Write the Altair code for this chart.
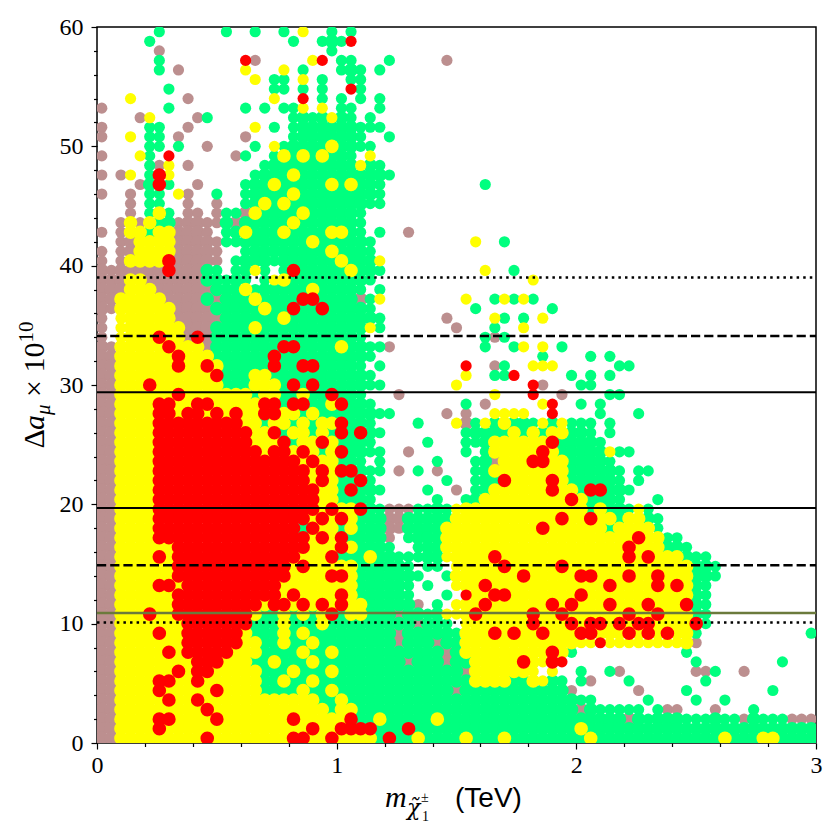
import altair as alt
import pandas as pd

# colour classes (matplotlib: rosybrown, springgreen, yellow, red)
COLORS = {"b": "#bc8f8f", "g": "#00ff7f", "y": "#ffff00", "r": "#ff0000"}
DRAW_ORDER = ["b", "g", "y", "r"]

# Point map: one character per cell, top row = highest Δa_μ.
# cell width 0.04 TeV (75 columns, 0..3 TeV), cell height 0.8 (75 rows, 0..60)
# '.' empty, b rosybrown, g springgreen, y yellow, r red (topmost colour seen)
ROWS = [
    "..... .g... ...g. .g..g .y..g .g...",
    "..... g.... ..... ..... g..gg gr...",
    "..... .b... ..... ..... ....g",
    "..... .g... ..... rb... ..yr. gg... g.... .b...",
    "..... .g.b. ..... y...y .g... ggg.g",
    "..... ..... ..... .y.gg .y.g. .gg..",
    "..... ..g.. ..... ...gg .g.g. .rg..",
    "...y. ....b ..... ...y. .r.g. g.g.g",
    "b.... ..g.. ..... g.g.g gy.y. gg..g",
    "....b y.... bg... ..... ggggy gg.g.",
    "b.... gg..b ..... .y.g. ggggg ggggg",
    "b..y. gg.b. ..... b.... ggggg ggg.. g....",
    "..... gg.g. .b... .g.yg ggggy gggg.",
    "b...y g.r.. ....b g..gy gygyg gg.y.",
    "..... gby.b ..... ..ggg ggggg ggygg",
    "b.by. gry.. ..... .gggg ygggg ggggg g....",
    "....b grg.. b.... gggyg ggggy gyggg ..... ..... g....",
    "b..b. gg.yb ..g.. ggggg ygggg ggggg",
    "...b. gg..b ..b.. ggygy ggggg ggggg",
    "...b. gyg.b b.bgg byggg gyggg ggg..",
    "..byb yggbb bbbgb ggggg ygggg ggg..",
    "b.byy gyybb bb.gg ygggy ggggy ygg.g ..b..",
    "..bby yyybb bbbgg ggggg ggygg gggg. ..... ....y ..g..",
    "b.bby yyybb bbb.. ggggg ggggy gggg.",
    "b.byy yyrbb bbb.g ggggg ggggg ygggy",
    "bbbbb bbrbb bgg.g gyg.g rgggg gyggg ..... ..... y..g.",
    "bbbyy bbbbb bgggg g.gyy ggggg gggg. ..... ..... ..... y....",
    "bbbyy ybbbb bbggg ygggg ggygg ggg.g",
    "bbyyy yybbb bgbgg gyggg grrgg ggbgy ..... ...y. .gygy g....",
    "bbyyy yyybb bbggg ggygg rggrg gggg. ..... ....g ..... ..g..",
    "b.yyy yyybb bbbgg ggggy ggggg ggggg ..... .b... .yg.g .y...",
    "b.yyy yyyyb bbggg gyggg ggggg gggyg ..... ..b.. .g..y",
    "b.yyy yryyb rbggg ggggg ggggg ggg.. ..... ..... gbg..",
    "bbyyy yyryy ybggg ggggr rgggg ygggg b.... ..... g..gy .y.g.",
    "bbyyy yyyry yyggg gggrg ggggg gggg. ..... ..... ..... .g... .g.g.",
    "bbyyy yyyry yrygg gggrg grrgg ggg.g ..... ...r. .bg.. yyy.. ....g g....",
    "bbyyy yyyyy yyrgg gyygg ggggg gggg. ..... ...y. .ggr. ....g .g.g.",
    "bbyyy ryyyy yyygg gyyyg rgrgg ggggg ..... ..y.. ..... rb... gg...",
    "bbyyy yyyry yyyyy ygyyg gyggr ggg.. .b... ..... .y... r..b. ...gg",
    "bbyyy yrryy rryyy yyrrg rrggy rggg. ..... ...g. b.... .yr.. g.g..",
    "bbyyy yrryr ryryr yyrry ygygg ggggg g.... .b.b. .yyyy ..r.. ..g.. .g...",
    "bbyyy yrrrr rrrrr yygyy gygyy rggg. ...g. ..ybg ygygg gygyg gg.g.",
    "bbyyy yrrrr rrrrr ryyrg yygyg rgrgg ..... ...gg gggyg ygyyg gg.g.",
    "bbyyy yrrrr rrrrr ryyyr gyyry gggg. ....g ...gg gyyyy yyrgg ggg..",
    "bbyyy yrrrr rrrrr rryrr yrygy rgggg ..b.. ...g. gyyyy yrygg gggyg g....",
    "bbyyy yrrrr rrrrr rrrrr ryryy ggg.g ..... g...g gbyyy rryyg gggg.",
    "bbyyy yrrrr rrrrr rrrrr rryry rrggg .b.g. b...g gyyyy yyyyg ggggg .gg..",
    "bbyyy yrrrr rrrrr rrrrr rryry ggrg. ..... .g..g ggryy yyryg ggggg .g...",
    "bbyyy yrrrr rrrrr rrrrr rrryy grggg ....g ..b.g gyyyy yyryy grrgg g....",
    "bbyyy yrrrr rrrrr rrrrr rrryy gggg. ..... g..gg yyyyy yyyyr ygggg ...g.",
    "bbyyy yrrrr rrrrr rrrrr rrryr yyrgg bbbgg ggyyy yyyyy yyyyy ygygg gyg..",
    "bbyyy yrrrr rrrrr rrrrr rryry ryggg bbggg ggyyy yyyyy yyyry yryyg yygg.",
    "bbyyy yrrrr rrrrr rrrrr rgryy gyggg bbggg gyyyy yyyyy yryyy yyygy yyyg.",
    "bbyyy yrrrr rrrrr rrrrr rryry rgggg b.ggg gyyyy yyyyy yyyyy yyyyy yryyg g....",
    "bbyyy yyyrr rrrrr rrrrr rryyy ryggg g..gg gyyyy yyyyy yyyyy yyyyy ryyyg gg...",
    "bbyyy yryrr rrrrr rrrrr ryyyr gggyg ggggg gyyyy yryyy yyyyy yyyyy ryryy yggg.",
    "bbyyy yyyrr rrrrr rrrrr yryyy yyggg ggg.g g.yyy yyryy yyyry yyyyy yyyyy yyggg",
    "bbyyy yyyrr rrrrr rrrrr yyyyr ryggg gggg. .gyyy yyyyr yyyyy rryyy ryyry yyggg",
    "bbyyy yrryr rrrrr rrrry yyyyy yyggg ggg.g ..yyy ryyyy yyyyy yyyry yyyry rygg.",
    "bbyyy yyyrr rrrrr rrrry ryyyy ryggg ggg.. .g.ry yrryy yyyyy ryyyy yyyyy yygg.",
    "bbyyy yyyrr rrrrr rryrr yryry ryygg gggb. g.yyy ryyyy yyryr yyyry yyryy yrgg.",
    "bbyyy ryyrr rrrrr ryggy gygyr gyygg gbggg gyyyr yyyyy ryyry yyyyy ryyry yygg.",
    "bbyyy yyyyr rrrrr rgggy gggyg ggggg gggbg gg.yy yyyyy ryyyr yrryr yrryy yyrg.",
    "bbyyy yryyr rrrrr ygggy gyggg ggggg gbggg gggyy yryry yryyy rryyy ryryr yyg.. ..... ....g",
    "bbyyy yyyyr rrrrr yyggy ggygg ggggg gbggg bggyy yyyyy yyyyy yyryy yyyyy yyb..",
    "bbyyy yyryr rrrry yyggg gyggy ggggg ggggg gbgyy yyyyy yyryg ..... ..... .g...",
    "bbyyy yyyyy rrryy yggyg ggygg ggggg ggbgg gbggy yyyyr yyrr. ..... ..... ..g.. ..... .g...",
    "bbyyy yyyry rryyy yyggg ygggy ggggg ggggg gggby yyyyy y.y.. g..gb ..... ..bbg ..b..",
    "bbyyy yrryy ryyyy yyggy ggygg ggggg ggggg ggggy yyygg yygg. gb... g.... ...g.",
    "bbyyy yryyy yyryy yyggg gyggy ggggg ggggg ggbgg ggggg ggggb ..... .b... .g... ..... g....",
    "bbyyy yyryy ryyyy yyyyy yyygg ygggg ggggg ggggg ggggg ggggg gg... ..g.. ..g.. g....",
    "bbyyy yyyyy yryyy yyyyy yyyyg yyggg ggggg ggggg ggggg ggggg bgggg gg.gb b...b ...g.",
    "bbyyy yrryy yyryy yyyyy ryyyy yrggy ggggg ygggg ggggg ggggg ggggg bgggg ggggg ggbgg ggbbb",
    "bbyyy yryyy yyyyy yyyyy yyryy rrrrg ggrgg ggggg ggggg ggggg ygggg ggggg ggggg ggggg ggggg",
    "bbyyy yyyyy yryyy yyyyy rryyr yyyyg rggyg gggyg ggygg ggggg gyggg ggggg ggggg ygggy ygggg",
]

# reference lines (Δa_μ × 10^10)
DOTTED = [10.1, 39.0]
DASHED = [14.9, 34.1]
SOLID = [19.7, 29.4]
OLIVE = [10.9]

X_TICKS = [0, 0.2, 0.4, 0.6, 0.8, 1, 1.2, 1.4, 1.6, 1.8, 2, 2.2, 2.4, 2.6, 2.8, 3]
Y_TICKS = list(range(0, 61, 2))

NCOL = 75
NROW = len(ROWS)
CELL_X = 3.0 / NCOL
CELL_Y = 60.0 / NROW

grid = {}
for k, row in enumerate(ROWS):
    j = NROW - 1 - k
    cells = row.replace(" ", "").ljust(NCOL, ".")[:NCOL]
    for i, ch in enumerate(cells):
        if ch in COLORS:
            grid[(i, j)] = ch

SIZE_FILL = 185   # cells inside a dense cloud (marker overlaps neighbours)
SIZE_DOT = 125    # isolated / edge points, about the reference marker size

recs = []
for (i, j), ch in grid.items():
    inner = all((i + di, j + dj) in grid or not (0 <= i + di < NCOL and 0 <= j + dj < NROW)
                for di, dj in ((1, 0), (-1, 0), (0, 1), (0, -1)))
    recs.append({"x": round((i + 0.5) * CELL_X, 4),
                 "y": round((j + 0.5) * CELL_Y, 4),
                 "c": ch,
                 "s": SIZE_FILL if inner else SIZE_DOT})
df = pd.DataFrame(recs)

W, H = 719, 716
SERIF = "Liberation Serif"

xscale = alt.Scale(domain=[0, 3], nice=False, zero=False)
yscale = alt.Scale(domain=[0, 60], nice=False, zero=False)

xaxis = alt.Axis(
    values=X_TICKS, title=None, grid=False, domain=False,
    labelExpr="datum.value % 1 === 0 ? format(datum.value, 'd') : ''",
    tickSize={"condition": {"test": "datum.value % 1 === 0", "value": 6}, "value": 3.5},
    tickColor="black", tickWidth=1.2,
    labelFont=SERIF, labelFontSize=24, labelColor="black", labelPadding=4,
    labelFlush=False, labelOverlap=False, labelBound=False,
)
yaxis = alt.Axis(
    values=Y_TICKS, title=None, grid=False, domain=False,
    labelExpr="datum.value % 10 === 0 ? datum.label : ''",
    tickSize={"condition": {"test": "datum.value % 10 === 0", "value": 6}, "value": 3.5},
    tickColor="black", tickWidth=1.2,
    labelFont=SERIF, labelFontSize=24, labelColor="black", labelPadding=8,
    labelFlush=False, labelOverlap=False, labelBound=False,
)

layers = []
for ch in DRAW_ORDER:
    sub = df[df["c"] == ch]
    layers.append(
        alt.Chart(sub).mark_circle(color=COLORS[ch], opacity=1, clip=True)
        .encode(x=alt.X("x:Q", scale=xscale, axis=xaxis),
                y=alt.Y("y:Q", scale=yscale, axis=yaxis),
                size=alt.Size("s:Q", scale=None))
    )


def hlines(vals, **kw):
    return alt.Chart(pd.DataFrame({"v": vals})).mark_rule(**kw).encode(
        y=alt.Y("v:Q", scale=yscale, axis=yaxis),
        x=alt.value(0), x2=alt.value(W),
    )


layers.append(hlines(OLIVE, color="#6b7a3c", strokeWidth=2.6))
layers.append(hlines(DOTTED, color="black", strokeWidth=2.5, strokeDash=[2.5, 4.1]))
layers.append(hlines(DASHED, color="black", strokeWidth=2.5, strokeDash=[9.2, 4]))
layers.append(hlines(SOLID, color="black", strokeWidth=2))


def label(text, x, y, size, font=SERIF, style="normal", angle=0):
    return alt.Chart(pd.DataFrame({"t": [text]})).mark_text(
        font=font, fontSize=size, fontStyle=style, angle=angle,
        align="left", baseline="alphabetic", color="black",
    ).encode(text="t:N", x=alt.value(x), y=alt.value(y))


# y-axis title: Δa_μ × 10^10 (rotated)
layers += [
    label("Δ", -53, 421.5, 30, angle=270),
    label("a", -53, 403, 30, style="italic", angle=270),
    label("μ", -47, 388, 21, style="italic", angle=270),
    label("× 10", -53, 370, 30, angle=270),
    label("10", -64, 315.6, 21, angle=270),
]
# x-axis title: m_{χ̃1±} (TeV)
layers += [
    label("m", 288, 780, 30, style="italic"),
    label("χ\u0303", 310, 788, 22, font="DejaVu Serif", style="italic"),
    label("±", 324, 775, 14),
    label("1", 325, 794, 14),
    label("(TeV)", 358, 780, 28, font="Liberation Sans"),
]

chart = (
    alt.layer(*layers)
    .properties(
        width=W, height=H,
        autosize=alt.AutoSizeParams(type="none"),
        padding={"left": 89, "top": 19, "right": 16, "bottom": 89},
        background="white",
    )
    .configure_view(stroke="black", strokeWidth=1.5)
)

chart.save("out.html", embed_options={"renderer": "svg", "actions": False})
